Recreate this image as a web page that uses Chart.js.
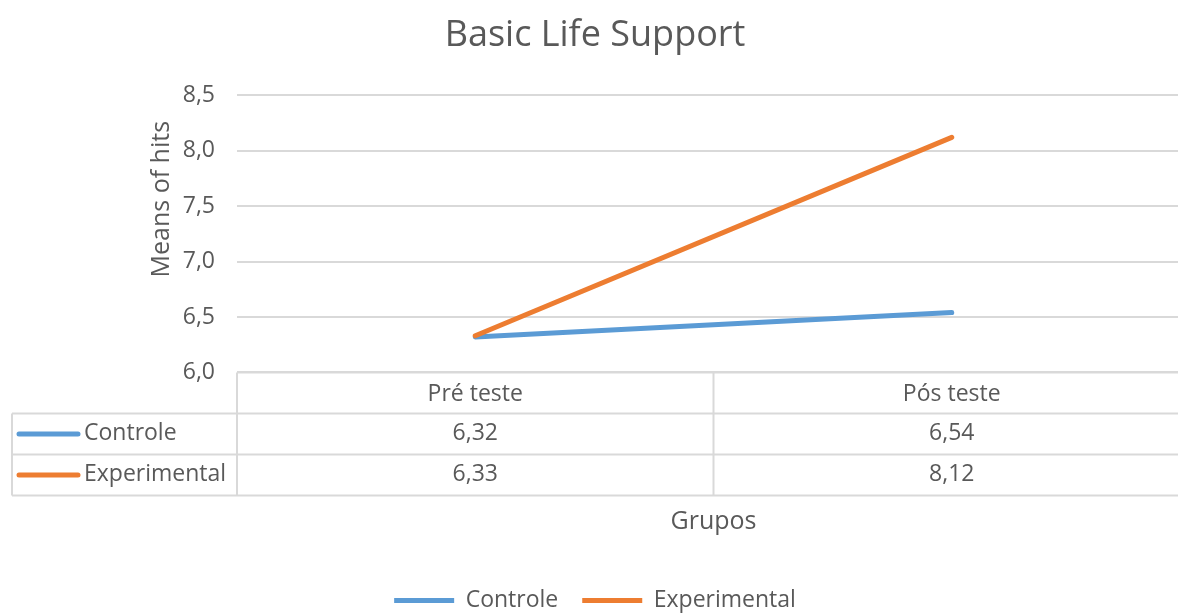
<!DOCTYPE html>
<html>
<head>
<meta charset="utf-8">
<script src="https://cdn.jsdelivr.net/npm/chart.js@4.4.0/dist/chart.umd.min.js"></script>
<style>
  html, body { margin: 0; padding: 0; background: #fff; overflow: hidden; }
  #wrap { position: absolute; left: 0; top: 0; width: 1190px; height: 622px; }
</style>
</head>
<body>
<div id="wrap"><canvas id="chart"></canvas></div>
<script>
const categories = ['Pré teste', 'Pós teste'];
const controle = [6.32, 6.54];
const experimental = [6.33, 8.12];
const seriesNames = ['Controle', 'Experimental'];
const yTicks = [6.0, 6.5, 7.0, 7.5, 8.0, 8.5];

const BLUE = '#5B9BD5';
const ORANGE = '#ED7D31';
const TEXT = '#595959';
const GRID = '#d9d9d9';
const FONT = "'Open Sans', sans-serif";

const comma = (v, d) => v.toFixed(d).replace('.', ',');

// data table under the plot + rotated y title
const dataTable = {
  id: 'dataTable',
  afterDraw(chart) {
    const ctx = chart.ctx;
    const area = chart.chartArea;
    const xs = chart.scales.x;
    const c0 = xs.getPixelForValue(0);
    const c1 = xs.getPixelForValue(1);
    const mid = (c0 + c1) / 2;
    const rowH = 41;
    const top = area.bottom;
    const tableLeft = 12;

    ctx.save();
    ctx.strokeStyle = GRID;
    ctx.lineWidth = 2;
    ctx.beginPath();
    ctx.moveTo(area.left, top); ctx.lineTo(area.right, top);
    for (let r = 1; r <= 3; r++) {
      ctx.moveTo(tableLeft, top + r * rowH); ctx.lineTo(area.right, top + r * rowH);
    }
    ctx.moveTo(area.left, top); ctx.lineTo(area.left, top + 3 * rowH);
    ctx.moveTo(mid, top); ctx.lineTo(mid, top + 3 * rowH);
    ctx.moveTo(tableLeft, top + rowH); ctx.lineTo(tableLeft, top + 3 * rowH);
    ctx.stroke();

    ctx.font = '23px ' + FONT;
    ctx.fillStyle = TEXT;
    ctx.textBaseline = 'middle';
    chart.data.datasets.forEach((ds, i) => {
      const y = top + rowH * (i + 1) + rowH / 2;
      ctx.strokeStyle = ds.borderColor;
      ctx.lineWidth = 5;
      ctx.lineCap = 'round';
      ctx.beginPath();
      ctx.moveTo(tableLeft + 7, y); ctx.lineTo(tableLeft + 66, y);
      ctx.stroke();
      ctx.textAlign = 'left';
      ctx.fillText(ds.label, tableLeft + 72, y);
      ctx.textAlign = 'center';
      ds.data.forEach((v, j) => {
        ctx.fillText(comma(v, 2), xs.getPixelForValue(j), y);
      });
    });

    // y axis title
    ctx.translate(area.left - 75, area.top + 104);
    ctx.rotate(-Math.PI / 2);
    ctx.font = '25px ' + FONT;
    ctx.textAlign = 'center';
    ctx.fillText('Means of hits', 0, 0);
    ctx.restore();
  }
};

new Chart(document.getElementById('chart').getContext('2d'), {
  type: 'line',
  data: {
    labels: categories,
    datasets: [
      {
        label: seriesNames[0],
        data: controle,
        borderColor: BLUE,
        backgroundColor: BLUE,
        borderWidth: 5,
        borderCapStyle: 'round',
        pointRadius: 0,
        pointStyle: 'line',
        order: 2
      },
      {
        label: seriesNames[1],
        data: experimental,
        borderColor: ORANGE,
        backgroundColor: ORANGE,
        borderWidth: 5,
        borderCapStyle: 'round',
        pointRadius: 0,
        pointStyle: 'line',
        order: 1
      }
    ]
  },
  options: {
    responsive: true,
    maintainAspectRatio: false,
    animation: false,
    layout: { padding: { left: 0, right: 0, top: 0, bottom: 0 } },
    scales: {
      x: {
        offset: true,
        grid: { display: false, drawTicks: false },
        border: { display: false },
        ticks: { color: TEXT, font: { family: FONT, size: 23 }, padding: 8, maxRotation: 0 },
        title: {
          display: true,
          text: 'Grupos',
          color: TEXT,
          font: { family: FONT, size: 25 },
          padding: { top: 91, bottom: 28 }
        }
      },
      y: {
        min: 6,
        max: 8.5,
        afterFit(scale) { scale.width = 237; },
        afterBuildTicks(scale) { scale.ticks = yTicks.map(v => ({ value: v })); },
        grid: { color: GRID, lineWidth: 2, drawTicks: false },
        border: { display: false },
        ticks: {
          color: TEXT,
          font: { family: FONT, size: 23 },
          padding: 22,
          callback: v => comma(v, 1)
        }
      }
    },
    plugins: {
      title: {
        display: true,
        text: 'Basic Life Support',
        color: TEXT,
        font: { family: FONT, size: 36, weight: 'normal' },
        padding: { top: 14, bottom: 38 }
      },
      legend: {
        position: 'bottom',
        labels: {
          color: TEXT,
          font: { family: FONT, size: 23 },
          usePointStyle: true,
          pointStyleWidth: 60,
          padding: 24,
          sort: (a, b) => a.datasetIndex - b.datasetIndex
        }
      },
      tooltip: { enabled: false }
    }
  },
  plugins: [dataTable]
});
</script>
</body>
</html>
